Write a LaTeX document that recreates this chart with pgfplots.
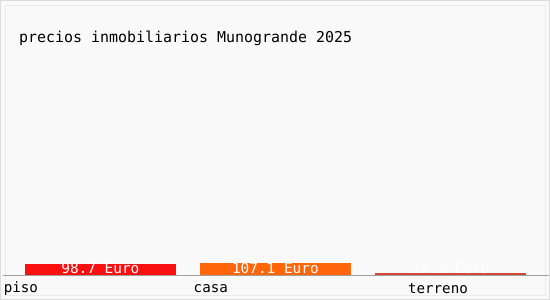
\documentclass[border=0pt]{standalone}
\usepackage{pgfplots}
\pgfplotsset{compat=1.18}
\usepackage{fontspec}
\setmainfont{DejaVu Sans Mono}
\definecolor{bg}{RGB}{249,249,249}
\definecolor{frame}{RGB}{220,220,220}
\definecolor{cpiso}{RGB}{250,16,16}
\definecolor{ccasa}{RGB}{255,102,10}
\definecolor{cterr}{RGB}{210,72,52}
\definecolor{axgray}{RGB}{160,160,160}
\begin{document}
\begin{tikzpicture}
\useasboundingbox (0,0) rectangle (550bp,300bp);
\fill[bg] (0,0) rectangle (550bp,300bp);
\draw[frame,line width=1bp] (0.5bp,0.5bp) rectangle (549.5bp,299.5bp);
\draw[frame!50!bg,line width=0.8bp] (5bp,5bp) rectangle (545bp,295bp);
\node[anchor=west,font=\fontsize{14.95bp}{16bp}\selectfont,inner sep=0pt] at (19bp,261.5bp) {precios inmobiliarios Munogrande 2025};
\begin{axis}[
  at={(2.5bp,25bp)}, anchor=south west,
  scale only axis, width=546bp, height=220bp,
  xmin=-0.5594, xmax=2.5606, ymin=0, ymax=1960,
  axis x line*=bottom, axis y line=none,
  x axis line style={axgray,line width=0.8bp,-},
  xtick={-0.454,0.631,1.929},
  xticklabels={piso,casa,terreno},
  major tick length=0pt,
  xticklabel style={font=\fontsize{14.2bp}{16bp}\selectfont,anchor=center,yshift=-14bp,text=black},
  ytick=\empty,
  clip=false,
  bar width=151bp,
]
\addplot[ybar,bar shift=0pt,fill=cpiso,draw=none] coordinates {(0,98.7)};
\addplot[ybar,bar shift=0pt,fill=ccasa,draw=none] coordinates {(1,107.1)};
\addplot[ybar,bar shift=0pt,fill=cterr,draw=none] coordinates {(2,14.2)};
\addplot[draw=none,mark=none,nodes near coords,point meta=explicit symbolic,
  every node near coord/.style={anchor=center,text=white,font=\fontsize{14.4bp}{16bp}\selectfont,inner sep=0pt}]
  coordinates {(0,58)[98.7 Euro] (1,58)[107.1 Euro] (2,58)[14.2 Euro]};
\end{axis}
\end{tikzpicture}
\end{document}
